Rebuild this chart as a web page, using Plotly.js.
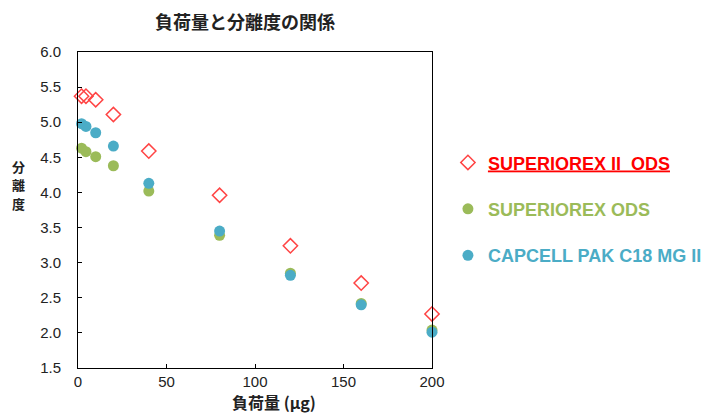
<!DOCTYPE html>
<html>
<head>
<meta charset="utf-8">
<script src="https://cdn.plot.ly/plotly-3.0.1.min.js"></script>
<style>html,body{margin:0;padding:0;background:#fff;}</style>
</head>
<body>
<div id="chart" style="width:714px;height:414px;"></div>
<script>
const loads = [2, 4.5, 10, 20, 40, 80, 120, 160, 200];
const superiorex2 = [5.37, 5.37, 5.32, 5.11, 4.59, 3.96, 3.24, 2.71, 2.27];
const superiorex = [4.63, 4.58, 4.51, 4.38, 4.02, 3.39, 2.85, 2.42, 2.04];
const capcell = [4.98, 4.94, 4.85, 4.66, 4.13, 3.45, 2.82, 2.40, 2.01];
const seriesNames = ['SUPERIOREX II  ODS', 'SUPERIOREX ODS', 'CAPCELL PAK C18 MG II'];
const xTicks = [0, 50, 100, 150, 200];
const yTicks = [1.5, 2.0, 2.5, 3.0, 3.5, 4.0, 4.5, 5.0, 5.5, 6.0];
const yTitleChars = ['分', '離', '度'];

const tickFont = {family: '"Liberation Sans Narrow", "Arial Narrow", "Liberation Sans", Arial, sans-serif', size: 15, color: '#222'};
const jp = '"Noto Sans CJK JP", "Noto Sans", sans-serif';

const traces = [
  {x: loads, y: superiorex2, name: '<span style="color:#FF0000;text-decoration:underline">' + seriesNames[0] + '</span>',
   type: 'scatter', mode: 'markers', legendgroup: 'a', cliponaxis: false,
   marker: {symbol: 'diamond-open', size: 11, color: '#FF4444', line: {width: 1.5, color: '#FF4444'}}},
  {x: loads, y: superiorex, name: '<span style="color:#9BBB59">' + seriesNames[1] + '</span>',
   type: 'scatter', mode: 'markers', legendgroup: 'b', cliponaxis: false,
   marker: {symbol: 'circle', size: 11, color: '#9BBB59'}},
  {x: loads, y: capcell, name: '<span style="color:#4BACC6">' + seriesNames[2] + '</span>',
   type: 'scatter', mode: 'markers', legendgroup: 'c', cliponaxis: false,
   marker: {symbol: 'circle', size: 11, color: '#4BACC6'}}
];

const annotations = yTitleChars.map((ch, i) => ({
  text: '<b>' + ch + '</b>', xref: 'paper', yref: 'paper',
  x: (18 - 78) / 354, y: (368 - (166 + i * 18.5)) / 316,
  xanchor: 'center', yanchor: 'middle', showarrow: false, borderpad: 0,
  font: {family: jp, size: 13, color: '#222'}
}));
annotations.push({text: '<b>負荷量 (μg)</b>', xref: 'paper', yref: 'paper', x: (274 - 78) / 354, y: (368 - 402) / 316,
  xanchor: 'center', yanchor: 'middle', showarrow: false,
  font: {family: jp, size: 16, color: '#222'}});

const layout = {
  width: 714, height: 414,
  margin: {l: 78, r: 282, t: 52, b: 46, autoexpand: false},
  paper_bgcolor: '#fff', plot_bgcolor: '#fff',
  title: {text: '<b>負荷量と分離度の関係</b>', font: {family: jp, size: 18, color: '#222'},
          x: 0.343, xanchor: 'center', y: 0.945, yanchor: 'middle'},
  xaxis: {range: [0, 200], tickvals: xTicks, ticktext: xTicks.map(String),
          showgrid: false, zeroline: false, showline: true, linecolor: '#000', linewidth: 1, mirror: true,
          ticks: 'inside', ticklen: 4, tickcolor: '#000', tickfont: tickFont},
  yaxis: {range: [1.5, 6.0], tickvals: yTicks, ticktext: yTicks.map(v => v.toFixed(1)),
          showgrid: false, zeroline: false, showline: true, linecolor: '#000', linewidth: 1, mirror: true,
          ticks: 'inside', ticklen: 4, tickcolor: '#000', tickfont: tickFont, ticklabelstandoff: 13},
  annotations: annotations,
  showlegend: true,
  legend: {x: 1.045, xanchor: 'left', y: 0.708, yanchor: 'top', traceorder: 'grouped', tracegroupgap: 20,
           font: {family: '"Liberation Sans", Arial, sans-serif', size: 18, weight: 'bold'},
           bgcolor: 'rgba(0,0,0,0)', itemwidth: 30}
};

Plotly.newPlot('chart', traces, layout, {displayModeBar: false, staticPlot: true});
</script>
</body>
</html>
